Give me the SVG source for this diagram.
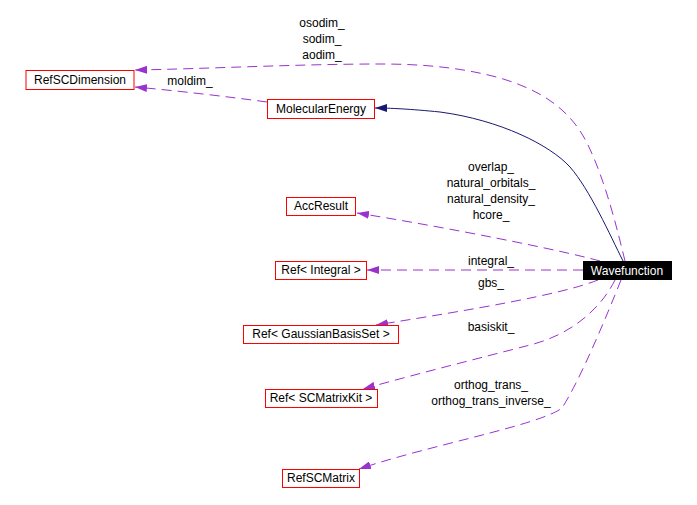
<svg xmlns="http://www.w3.org/2000/svg" width="697" height="505" viewBox="0 0 697 505">
<style>
text{font-family:"Liberation Sans",Arial,sans-serif;font-size:12px;text-anchor:middle;fill:#000}
.box{fill:#fff;stroke:#ff0000;stroke-width:1}
.dash{fill:none;stroke:#9a32cd;stroke-width:1;stroke-dasharray:10,6}
.inh{fill:none;stroke:#191970;stroke-width:1}
</style>
<defs>
<marker id="ap" markerUnits="userSpaceOnUse" viewBox="0 0 12 8" refX="12" refY="4" markerWidth="12" markerHeight="8" orient="auto">
<polygon points="0,0 12,4 0,8" fill="#9a32cd" stroke="none"/>
</marker>
<marker id="an" markerUnits="userSpaceOnUse" viewBox="0 0 12 8" refX="12" refY="4" markerWidth="12" markerHeight="8" orient="auto">
<polygon points="0,0 12,4 0,8" fill="#191970" stroke="none"/>
</marker>
</defs>
<rect width="697" height="505" fill="#fff"/>
<g id="edges">
<path class="inh" marker-end="url(#an)" d="M623,261 C610,235 590,190 570,167 C550,145 500,120 440,112 C410,109 390,108 375,108"/>
<path class="dash" marker-end="url(#ap)" d="M625,261 C617,228 605,180 588,145 C570,108 540,90 500,78 C460,67 420,64 380,64 C300,64 200,69 135,70"/>
<path class="dash" marker-end="url(#ap)" d="M267,102 C230,97 180,91 135,87"/>
<path class="dash" marker-end="url(#ap)" d="M600,261 C560,250 450,228 357,213"/>
<path class="dash" marker-end="url(#ap)" d="M583,270 L367,270"/>
<path class="dash" marker-end="url(#ap)" d="M598,280 C560,295 470,310 376,325"/>
<path class="dash" marker-end="url(#ap)" d="M615,280 C600,310 570,335 530,345 C480,358 420,373 363,389"/>
<path class="dash" marker-end="url(#ap)" d="M621,280 C605,320 580,380 562,408 C540,425 430,445 359,469"/>
</g>
<g id="labels">
<text x="322" y="27">osodim_</text>
<text x="322" y="43">sodim_</text>
<text x="322" y="59">aodim_</text>
<text x="190" y="85">moldim_</text>
<text x="491" y="171">overlap_</text>
<text x="491" y="187">natural_orbitals_</text>
<text x="491" y="203">natural_density_</text>
<text x="491" y="219">hcore_</text>
<text x="491" y="265">integral_</text>
<text x="491" y="287">gbs_</text>
<text x="491" y="331">basiskit_</text>
<text x="491" y="389">orthog_trans_</text>
<text x="491" y="405">orthog_trans_inverse_</text>
</g>
<g id="RefSCDimension"><rect class="box" x="26" y="70.5" width="108" height="19"/><text x="80" y="84">RefSCDimension</text></g>
<g id="MolecularEnergy"><rect class="box" x="267.5" y="99.5" width="107" height="19"/><text x="321" y="113">MolecularEnergy</text></g>
<g id="AccResult"><rect class="box" x="286.5" y="197.5" width="69" height="18"/><text x="321" y="210">AccResult</text></g>
<g id="RefIntegral"><rect class="box" x="275.5" y="261.5" width="91" height="18"/><text x="321" y="274">Ref&lt; Integral &gt;</text></g>
<g id="Wavefunction"><rect x="583" y="261" width="89" height="19" fill="#000"/><text x="627" y="275" style="fill:#fff">Wavefunction</text></g>
<g id="RefGaussianBasisSet"><rect class="box" x="243.5" y="325.5" width="155" height="18"/><text x="321" y="338">Ref&lt; GaussianBasisSet &gt;</text></g>
<g id="RefSCMatrixKit"><rect class="box" x="265.5" y="389.5" width="112" height="18"/><text x="321" y="402">Ref&lt; SCMatrixKit &gt;</text></g>
<g id="RefSCMatrix"><rect class="box" x="282.5" y="469.5" width="77" height="18"/><text x="321" y="482">RefSCMatrix</text></g>
</svg>
